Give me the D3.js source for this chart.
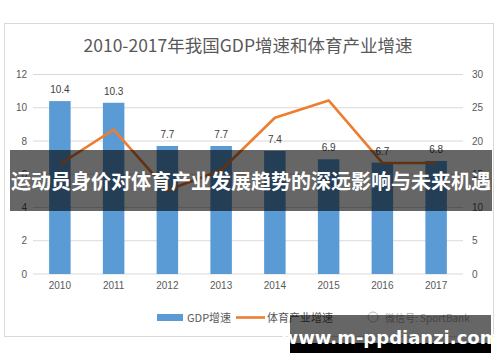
<!DOCTYPE html>
<html>
<head>
<meta charset="utf-8">
<script src="https://cdn.jsdelivr.net/npm/d3@7"></script>
<style>
  body { margin: 0; background: #fff; }
  svg { display: block; font-family: "Noto Sans CJK SC", "Noto Sans", sans-serif; }
</style>
</head>
<body>
<div id="chart"></div>
<script>
const years = ["2010", "2011", "2012", "2013", "2014", "2015", "2016", "2017"];
const gdpGrowth = [10.4, 10.3, 7.7, 7.7, 7.4, 6.9, 6.7, 6.8];
const sportsGrowth = [16.5, 21.7, 12.6, 15.6, 23.5, 26.1, 16.7, 16.7];
const leftTicks = [0, 2, 4, 6, 8, 10, 12];
const rightTicks = [0, 5, 10, 15, 20, 25, 30];

const width = 500, height = 362;
const plot = {left: 33, right: 463, top: 74.5, bottom: 274};

let svg = d3.select("#chart")
    .append("svg")
    .attr("width", width)
    .attr("height", height);

// chart frame
svg.append("rect")
    .attr("x", 4.5).attr("y", 23.5)
    .attr("width", 489).attr("height", 313)
    .attr("fill", "#fff")
    .attr("stroke", "#d9d9d9");

svg.append("text")
    .attr("x", 248).attr("y", 52)
    .attr("text-anchor", "middle")
    .style("font-size", "17.5px")
    .attr("fill", "#595959")
    .text("2010-2017年我国GDP增速和体育产业增速");

let x = d3.scaleBand()
    .domain(years)
    .range([plot.left, plot.right])
    .paddingInner(0.6)
    .paddingOuter(0.3);

let yLeft = d3.scaleLinear().domain([0, 12]).range([plot.bottom, plot.top]);
let yRight = d3.scaleLinear().domain([0, 30]).range([plot.bottom, plot.top]);

// gridlines
svg.append("g")
    .selectAll("line")
    .data(leftTicks)
    .join("line")
    .attr("x1", plot.left).attr("x2", plot.right)
    .attr("y1", d => yLeft(d)).attr("y2", d => yLeft(d))
    .attr("stroke", "#d9d9d9")
    .attr("stroke-width", 1);

let axisLeft = svg.append("g")
    .attr("transform", `translate(${plot.left - 6}, 0)`)
    .call(d3.axisLeft(yLeft).tickValues(leftTicks).tickSize(0).tickPadding(0));
let axisRight = svg.append("g")
    .attr("transform", `translate(${plot.right + 9}, 0)`)
    .call(d3.axisRight(yRight).tickValues(rightTicks).tickSize(0).tickPadding(0));
let axisBottom = svg.append("g")
    .attr("transform", `translate(0, ${plot.bottom + 8})`)
    .call(d3.axisBottom(x).tickSize(0).tickPadding(0));

[axisLeft, axisRight, axisBottom].forEach(function(a) {
    a.select(".domain").remove();
    a.selectAll("text")
        .attr("fill", "#595959")
        .style("font-size", "10px")
        .style("font-family", "\"Liberation Sans\", sans-serif");
});

// bars
svg.append("g")
    .selectAll("rect")
    .data(years)
    .join("rect")
    .attr("x", d => x(d))
    .attr("y", (d, i) => yLeft(gdpGrowth[i]))
    .attr("width", x.bandwidth())
    .attr("height", (d, i) => yLeft(0) - yLeft(gdpGrowth[i]))
    .attr("fill", "#5b9bd5");

svg.append("g")
    .selectAll("text")
    .data(years)
    .join("text")
    .attr("x", d => x(d) + x.bandwidth() / 2)
    .attr("y", (d, i) => yLeft(gdpGrowth[i]) - 8)
    .attr("text-anchor", "middle")
    .attr("fill", "#404040")
    .style("font-size", "10px")
    .style("font-family", "\"Liberation Sans\", sans-serif")
    .text((d, i) => gdpGrowth[i]);

// sports line
let line = d3.line()
    .x((d, i) => x(years[i]) + x.bandwidth() / 2)
    .y(d => yRight(d));

svg.append("path")
    .datum(sportsGrowth)
    .attr("d", line)
    .attr("fill", "none")
    .attr("stroke", "#ed7d31")
    .attr("stroke-width", 2.6)
    .attr("stroke-linejoin", "round");

// legend
let legend = svg.append("g").style("font-size", "11px").attr("fill", "#595959");
legend.append("rect").attr("x", 157).attr("y", 314).attr("width", 26).attr("height", 7).attr("fill", "#5b9bd5");
legend.append("text").attr("x", 187).attr("y", 321.5).text("GDP增速");
legend.append("line").attr("x1", 236).attr("x2", 265).attr("y1", 317.5).attr("y2", 317.5)
    .attr("stroke", "#ed7d31").attr("stroke-width", 2.6);
legend.append("text").attr("x", 267).attr("y", 321.5).text("体育产业增速");

// faint source mark
svg.append("circle").attr("cx", 373).attr("cy", 317).attr("r", 5)
    .attr("fill", "none").attr("stroke", "#bbb").attr("stroke-width", 1);
svg.append("text").attr("x", 385).attr("y", 321.5)
    .style("font-size", "10px").attr("fill", "#aaa")
    .text("微信号: SportBank");

// banner overlay
svg.append("rect")
    .attr("x", 10).attr("y", 150)
    .attr("width", 482).attr("height", 61)
    .attr("fill", "rgba(0,0,0,0.6)");
svg.append("text")
    .attr("x", 251).attr("y", 189)
    .attr("text-anchor", "middle")
    .attr("fill", "#fff")
    .style("font-size", "20px")
    .style("font-weight", "bold")
    .text("运动员身价对体育产业发展趋势的深远影响与未来机遇");

// site watermark
svg.append("rect").attr("x", 290).attr("y", 315).attr("width", 201).attr("height", 28)
    .attr("fill", "rgba(0,0,0,0.6)");
svg.append("rect").attr("x", 290).attr("y", 343).attr("width", 201).attr("height", 10)
    .attr("fill", "#000");
svg.append("text")
    .attr("x", 390).attr("y", 344)
    .attr("text-anchor", "middle")
    .attr("fill", "#fff")
    .style("font-size", "18px")
    .style("font-weight", "bold")
    .style("font-family", "\"DejaVu Sans\", sans-serif")
    .text("www.m-ppdianzi.com");
</script>
</body>
</html>
